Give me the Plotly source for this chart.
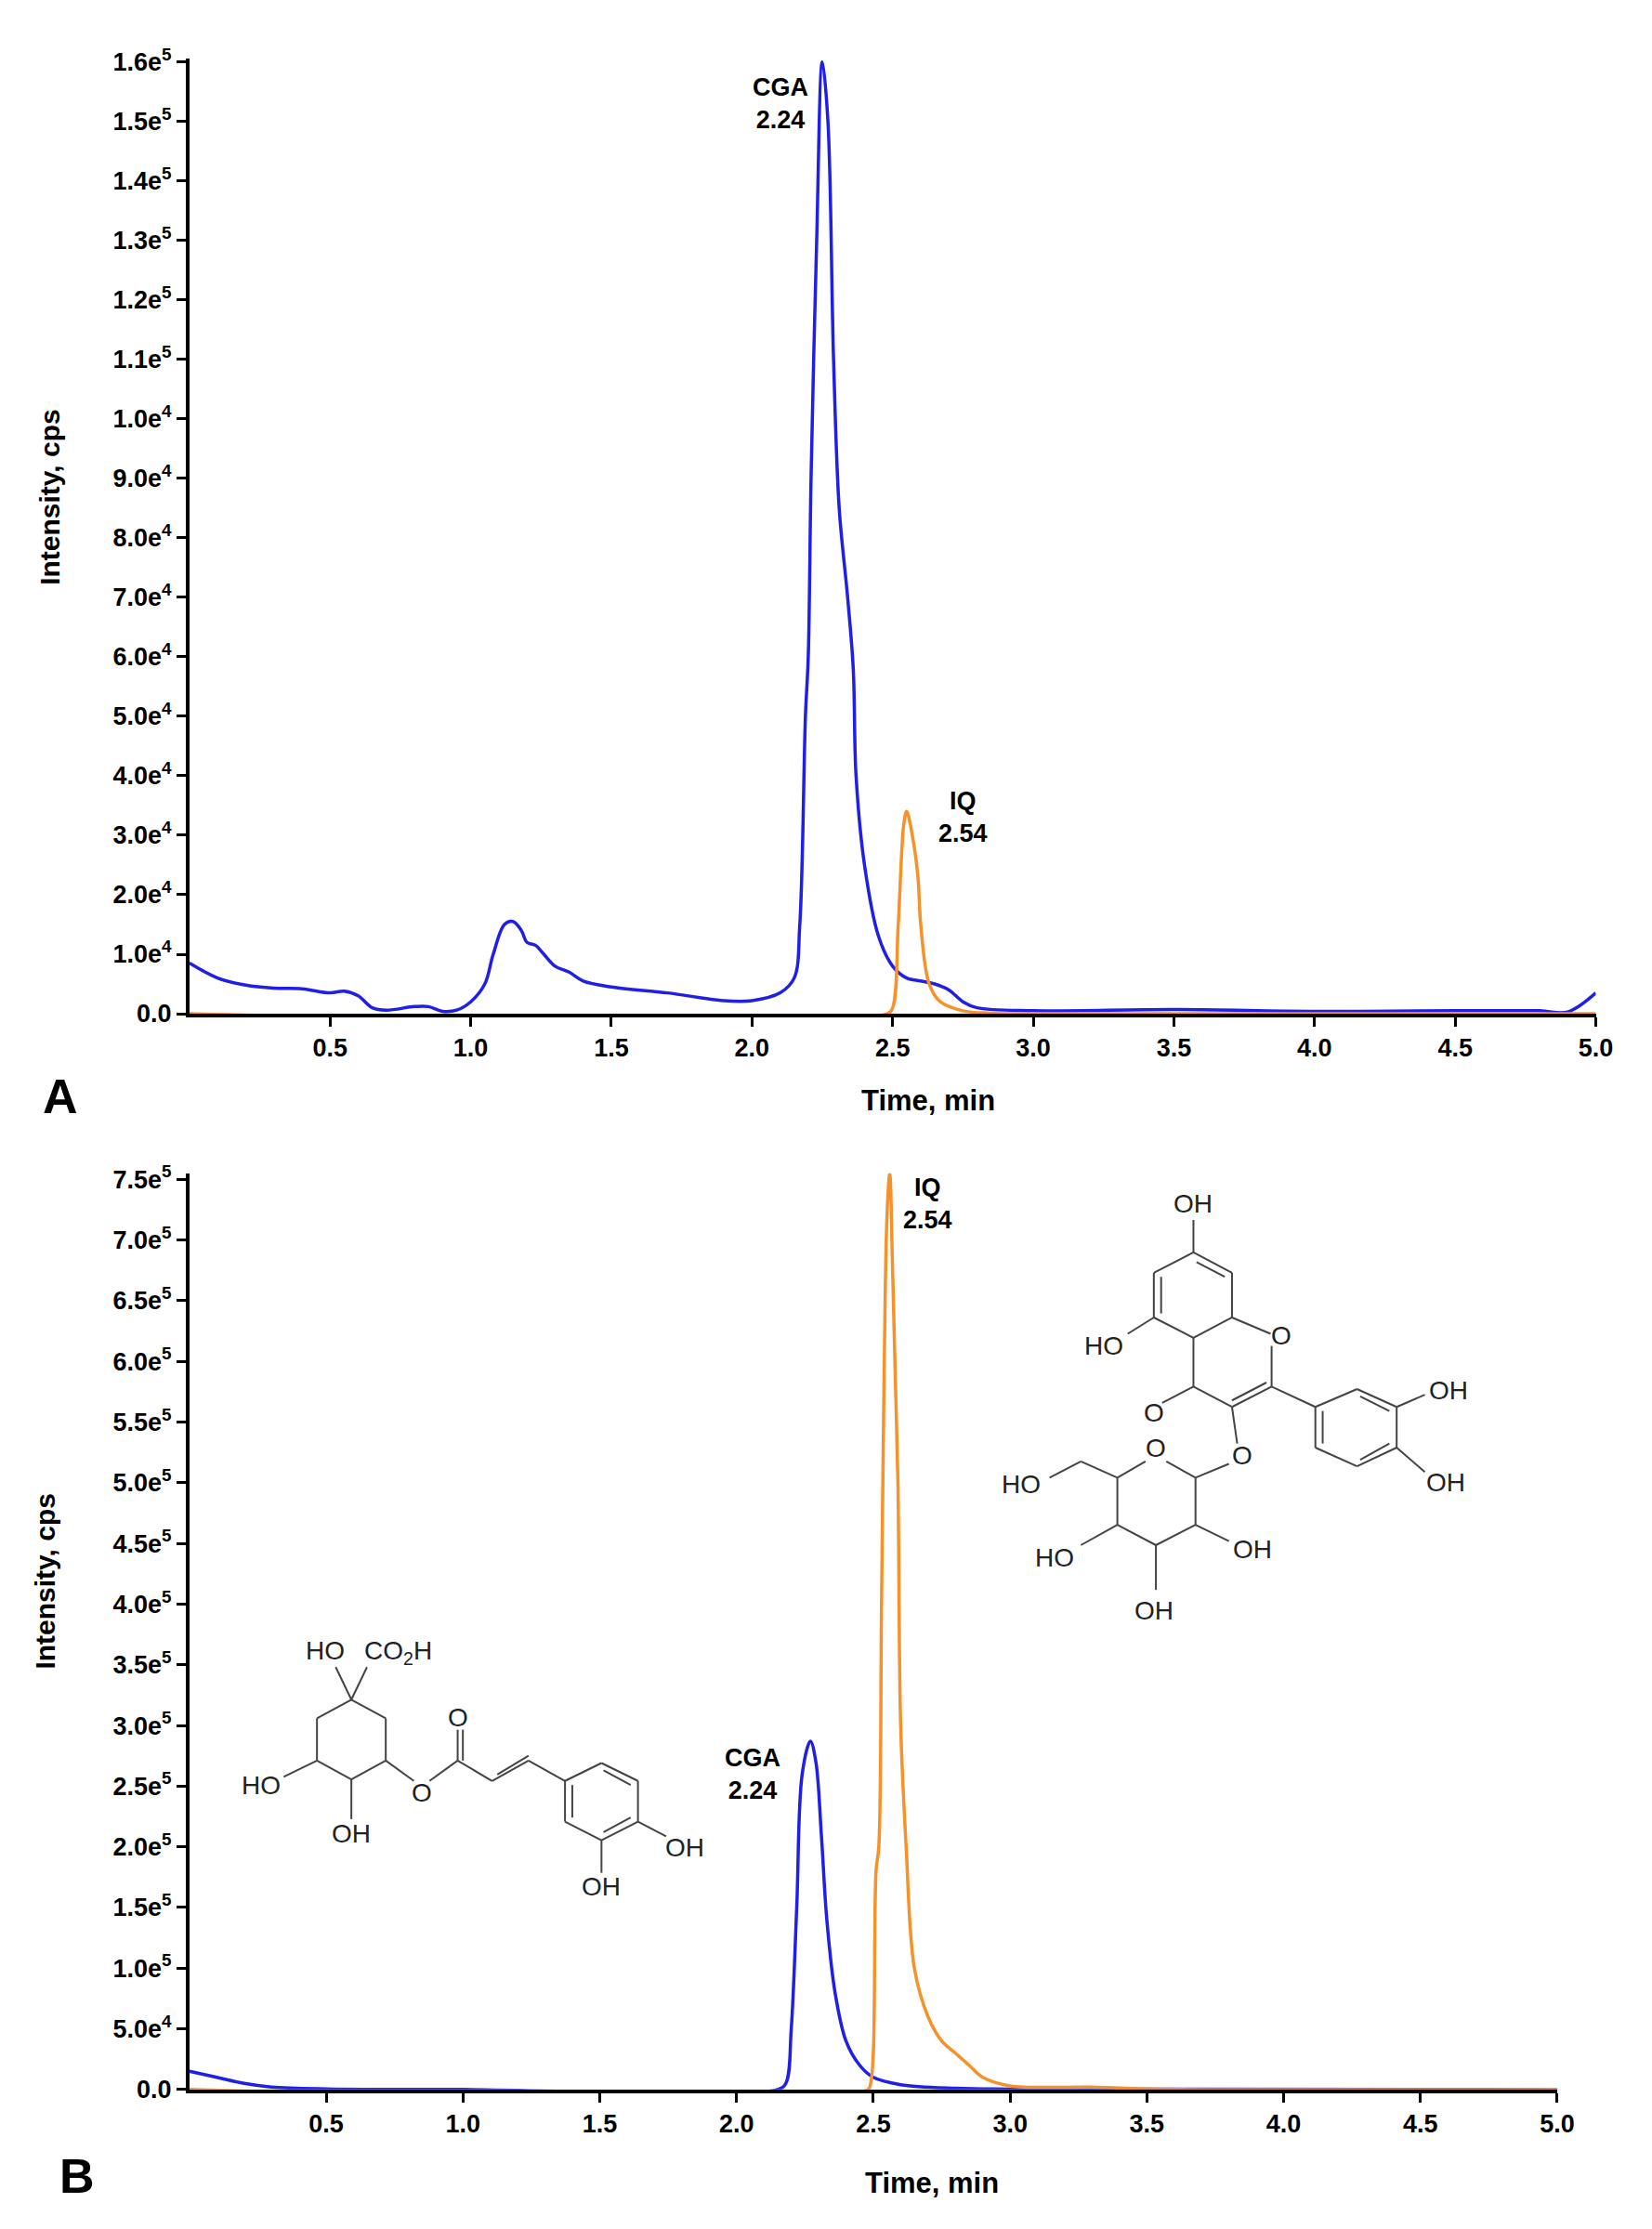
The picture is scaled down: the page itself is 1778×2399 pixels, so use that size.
import plotly.graph_objects as go

# Panel A
a_blue_t = [0.0, 0.1, 0.2, 0.3, 0.4, 0.5, 0.55, 0.6, 0.65, 0.7, 0.8, 0.85, 0.9, 0.95, 1.0, 1.05, 1.08, 1.12, 1.15,
            1.18, 1.2, 1.23, 1.26, 1.3, 1.35, 1.4, 1.5, 1.7, 1.9, 2.0, 2.1, 2.15, 2.17, 2.19, 2.2, 2.21, 2.23,
            2.25, 2.27, 2.29, 2.31, 2.34, 2.36, 2.37, 2.4, 2.45, 2.5, 2.55, 2.6, 2.65, 2.7, 2.75, 2.8, 3.0,
            3.5, 4.0, 4.5, 4.8, 4.9, 5.0]
a_blue_i = [8.5e3, 6e3, 4.8e3, 4.3e3, 4.2e3, 3.5e3, 3.8e3, 3e3, 1e3, 600, 1200, 1200, 400, 600, 2e3, 5e3, 1e4,
            1.5e4, 1.55e4, 1.4e4, 1.2e4, 1.15e4, 1e4, 8e3, 7e3, 5.5e3, 4.5e3, 3.5e3, 2.2e3, 2.2e3, 3.5e3, 6e3,
            1.5e4, 5e4, 6e4, 9e4, 1.3e5, 1.6e5, 1.5e5, 1.1e5, 8.5e4, 7e4, 5.8e4, 4e4, 2.5e4, 1.3e4, 8e3, 6e3,
            5.5e3, 5e3, 4e3, 2e3, 1e3, 500, 700, 400, 500, 500, 300, 3500]
a_orange_t = [0.0, 2.48, 2.5, 2.52, 2.54, 2.55, 2.57, 2.59, 2.6, 2.63, 2.67, 2.75, 2.85, 3.0, 5.0]
a_orange_i = [0, 0, 1e3, 1.5e4, 3.2e4, 3.4e4, 3e4, 2.3e4, 1.5e4, 5e3, 2e3, 500, 100, 0, 0]
a_ytick_vals = [i * 1e4 for i in range(17)]
a_ytick_text = ["0.0", "1.0e4", "2.0e4", "3.0e4", "4.0e4", "5.0e4", "6.0e4", "7.0e4", "8.0e4", "9.0e4",
                "1.0e4", "1.1e5", "1.2e5", "1.3e5", "1.4e5", "1.5e5", "1.6e5"]

# Panel B
b_blue_t = [0.0, 0.1, 0.2, 0.3, 0.5, 1.0, 2.15, 2.18, 2.2, 2.22, 2.24, 2.27, 2.29, 2.31, 2.33, 2.36, 2.4, 2.45,
            2.5, 2.6, 2.8, 3.0, 5.0]
b_blue_i = [1.5e4, 1e4, 5e3, 2e3, 500, 0, 0, 5e3, 5e4, 1.5e5, 2.6e5, 2.87e5, 2.7e5, 2.1e5, 1.4e5, 8e4, 4e4,
            2e4, 1e4, 4e3, 1e3, 300, 0]
b_orange_t = [0.0, 2.48, 2.49, 2.5, 2.51, 2.52, 2.53, 2.54, 2.55, 2.56, 2.57, 2.58, 2.59, 2.6, 2.62, 2.65, 2.7,
              2.75, 2.8, 2.85, 2.9, 3.0, 3.3, 3.5, 5.0]
b_orange_i = [0, 0, 5e3, 3e4, 1.8e5, 2e5, 4e5, 6e5, 7.2e5, 7.55e5, 6.8e5, 5.9e5, 5e5, 3e5, 2e5, 1e5, 6e4,
              4e4, 3e4, 2e4, 1e4, 3e3, 2e3, 500, 0]
b_ytick_vals = [i * 5e4 for i in range(16)]
b_ytick_text = ["0.0", "5.0e4"] + ["%.1fe5" % (i * 0.5) for i in range(2, 16)]

x_ticks = [0.5, 1.0, 1.5, 2.0, 2.5, 3.0, 3.5, 4.0, 4.5, 5.0]

BLUE = "#1f1fe6"
ORANGE = "#f5922a"
FONT = "Liberation Sans"


def sup(t):
    if "e" in t:
        m, e = t.split("e")
        return m + "e<sup>" + e + "</sup>"
    return t


W, H = 1778, 2399
fig = go.Figure()
fig.add_trace(go.Scatter(x=a_blue_t, y=a_blue_i, mode="lines", line=dict(color=BLUE, width=3.5, shape="spline"),
                         xaxis="x", yaxis="y"))
fig.add_trace(go.Scatter(x=a_orange_t, y=a_orange_i, mode="lines",
                         line=dict(color=ORANGE, width=3.5, shape="spline"), xaxis="x", yaxis="y"))
fig.add_trace(go.Scatter(x=b_blue_t, y=b_blue_i, mode="lines", line=dict(color=BLUE, width=3.5, shape="spline"),
                         xaxis="x2", yaxis="y2"))
fig.add_trace(go.Scatter(x=b_orange_t, y=b_orange_i, mode="lines",
                         line=dict(color=ORANGE, width=3.5, shape="spline"), xaxis="x2", yaxis="y2"))

axis_common = dict(showgrid=False, zeroline=False, showline=True, linecolor="black", linewidth=4,
                   ticks="outside", ticklen=10, tickwidth=3, tickcolor="black",
                   tickfont=dict(family=FONT, size=27, color="black", weight="bold"))

fig.update_layout(
    width=W, height=H, margin=dict(l=0, r=0, t=0, b=0), plot_bgcolor="rgba(0,0,0,0)", paper_bgcolor="white",
    showlegend=False, font=dict(family=FONT, color="black"),
    xaxis=dict(domain=[198 / W, 1728 / W], range=[0, 5.0], tickvals=x_ticks,
               ticktext=["%.1f" % v for v in x_ticks], anchor="y", **axis_common),
    yaxis=dict(domain=[1 - 1081 / H, 1 - 40 / H], range=[0, 1.605e5], tickvals=a_ytick_vals,
               ticktext=[sup(t) for t in a_ytick_text], anchor="x", **axis_common),
    xaxis2=dict(domain=[198 / W, 1686 / W], range=[0, 5.0], tickvals=x_ticks,
                ticktext=["%.1f" % v for v in x_ticks], anchor="y2", **axis_common),
    yaxis2=dict(domain=[1 - 2254 / H, 1 - 1255 / H], range=[0, 7.55e5], tickvals=b_ytick_vals,
                ticktext=[sup(t) for t in b_ytick_text], anchor="x2", **axis_common),
    xaxis3=dict(domain=[0, 1], range=[0, W], visible=False, anchor="y3"),
    yaxis3=dict(domain=[0, 1], range=[H, 0], visible=False, anchor="x3"),
)

lab = dict(family=FONT, size=27, color="black", weight="bold")
anns = [
    dict(text="CGA<br>2.24", x=2.1, y=1.53e5, xref="x", yref="y"),
    dict(text="IQ<br>2.54", x=2.75, y=3.3e4, xref="x", yref="y"),
    dict(text="IQ<br>2.54", x=2.7, y=7.3e5, xref="x2", yref="y2"),
    dict(text="CGA<br>2.24", x=2.06, y=2.6e5, xref="x2", yref="y2"),
]
for a in anns:
    fig.add_annotation(showarrow=False, font=lab, **a)

pix = dict(xref="x3", yref="y3", showarrow=False)
fig.add_annotation(text="Intensity, cps", x=46, y=518, textangle=-90, font=dict(family=FONT, size=30, weight="bold"), **pix)
fig.add_annotation(text="Intensity, cps", x=40, y=1700, textangle=-90, font=dict(family=FONT, size=30, weight="bold"), **pix)
fig.add_annotation(text="Time, min", x=1002, y=1176, font=dict(family=FONT, size=31, weight="bold"), **pix)
fig.add_annotation(text="Time, min", x=1006, y=2356, font=dict(family=FONT, size=31, weight="bold"), **pix)
fig.add_annotation(text="A", x=58, y=1171, font=dict(family=FONT, size=52, weight="bold"), **pix)
fig.add_annotation(text="B", x=76, y=2348, font=dict(family=FONT, size=52, weight="bold"), **pix)


# --- chemical structures (drawing, in zoom-crop coordinates) ---
def zc(x, y):
    return x / 0.882, y / 1.128 + 1000


bonds = [
    # isoquercitrin: ring A
    ((1175, 465), (1175, 410)), ((1175, 410), (1138, 385)), ((1138, 385), (1100, 410)),
    ((1100, 410), (1100, 465)), ((1100, 465), (1138, 490)), ((1138, 490), (1175, 465)),
    ((1138, 385), (1138, 345)), ((1100, 465), (1075, 485)),
    # ring C
    ((1175, 465), (1212, 485)), ((1213, 500), (1213, 550)), ((1213, 550), (1175, 575)),
    ((1175, 575), (1138, 550)), ((1138, 550), (1138, 490)), ((1138, 550), (1108, 570)),
    ((1175, 575), (1180, 620)),
    # ring B
    ((1213, 550), (1255, 575)), ((1255, 575), (1295, 553)), ((1295, 553), (1333, 575)),
    ((1333, 575), (1333, 625)), ((1333, 625), (1295, 648)), ((1295, 648), (1255, 625)),
    ((1255, 625), (1255, 575)), ((1333, 575), (1360, 560)), ((1333, 625), (1360, 655)),
    # glucose
    ((1112, 642), (1140, 662)), ((1140, 662), (1140, 720)), ((1140, 720), (1102, 745)),
    ((1102, 745), (1065, 720)), ((1065, 720), (1065, 662)), ((1065, 662), (1092, 642)),
    ((1140, 662), (1172, 645)), ((1065, 662), (1030, 642)), ((1030, 642), (1000, 662)),
    ((1065, 720), (1030, 745)), ((1102, 745), (1102, 800)), ((1140, 720), (1172, 740)),
    # chlorogenic acid: quinic ring
    ((330, 935), (363, 958)), ((363, 958), (363, 1010)), ((363, 1010), (330, 1033)),
    ((330, 1033), (297, 1010)), ((297, 1010), (297, 958)), ((297, 958), (330, 935)),
    ((330, 935), (315, 895)), ((330, 935), (345, 895)), ((297, 1010), (265, 1030)),
    ((330, 1033), (330, 1082)), ((363, 1010), (390, 1035)),
    # ester + caffeoyl
    ((405, 1035), (432, 1010)), ((432, 1010), (432, 972)), ((437, 1010), (437, 972)),
    ((432, 1010), (465, 1035)), ((465, 1035), (500, 1010)), ((470, 1027), (500, 1004)),
    ((500, 1010), (535, 1035)),
    ((535, 1035), (570, 1013)), ((570, 1013), (605, 1035)), ((605, 1035), (605, 1085)),
    ((605, 1085), (570, 1108)), ((570, 1108), (535, 1085)), ((535, 1085), (535, 1035)),
    ((605, 1085), (632, 1103)), ((570, 1108), (570, 1148)),
    # double bonds in aromatic rings
    ((1107, 415), (1107, 460)), ((1168, 415), (1141, 397)), ((1208, 545), (1175, 567)),
    ((1262, 580), (1262, 620)), ((1326, 580), (1298, 562)), ((1326, 620), (1298, 640)),
    ((542, 1040), (542, 1080)), ((598, 1040), (572, 1022)), ((598, 1080), (572, 1098)),
]
for p, q in bonds:
    x0, y0 = zc(*p)
    x1, y1 = zc(*q)
    fig.add_shape(type="line", x0=x0, y0=y0, x1=x1, y1=y1, xref="x3", yref="y3",
                  line=dict(color="#444444", width=2))

atoms = [
    ("OH", 1138, 325), ("HO", 1052, 500), ("O", 1222, 487), ("O", 1100, 582), ("O", 1185, 635),
    ("OH", 1383, 555), ("OH", 1380, 668), ("O", 1102, 625), ("HO", 973, 670), ("HO", 1005, 760),
    ("OH", 1100, 825), ("OH", 1195, 750),
    ("HO", 305, 875), ("CO<sub>2</sub>H", 375, 877), ("HO", 243, 1040), ("OH", 330, 1100),
    ("O", 398, 1050), ("O", 432, 957), ("OH", 650, 1117), ("OH", 570, 1165),
]
for t, x, y in atoms:
    px, py = zc(x, y)
    fig.add_annotation(text=t, x=px, y=py, font=dict(family=FONT, size=28, color="#222222"), **pix)

fig.write_html("out.html")
